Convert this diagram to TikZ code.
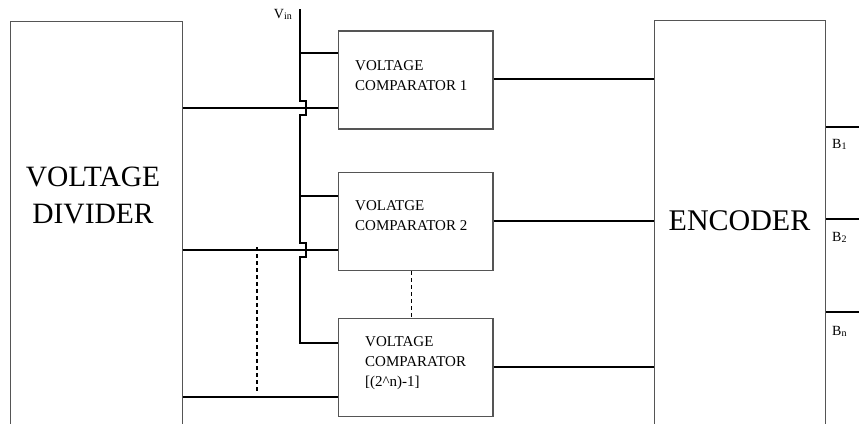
\documentclass[tikz,border=0pt]{standalone}
\usepackage{fontspec}
\setmainfont{Liberation Serif}
\usetikzlibrary{positioning,calc}
\definecolor{boxline}{RGB}{85,85,85}
\newcommand{\lowsub}[1]{\raisebox{-1pt}{\fontsize{10}{10}\selectfont #1}}
\tikzset{
  bigbox/.style={rectangle,draw=boxline,line width=1.1pt,anchor=north west,inner sep=0pt},
  cmpbox/.style={rectangle,draw=boxline,line width=1.1pt,minimum width=154.5pt,minimum height=98pt,inner sep=0pt},
  bigtext/.style={align=center,inner sep=0pt,font=\fontsize{29.5}{37}\selectfont},
  cmptext/.style={align=left,anchor=west,inner sep=0pt,font=\fontsize{15}{20}\selectfont},
  outtext/.style={anchor=west,inner sep=0pt,font=\fontsize{14}{16}\selectfont},
  wire/.style={line width=1.1pt},
  dotwire/.style={line width=1.1pt,dash pattern=on 4pt off 3pt}
}
\begin{document}
\begin{tikzpicture}[x=1pt,y=-1pt]
  \useasboundingbox (0,0) rectangle (859,423);
  \clip (0,0) rectangle (859,423);
  % big blocks
  \node[bigbox,minimum width=171.5pt,minimum height=409pt] (divider) at (10,21) {};
  \node[bigtext] (dividertxt) at (93,195) {VOLTAGE\\DIVIDER};
  \node[bigbox,minimum width=171pt,minimum height=410pt] (encoder) at (654,20) {};
  \node[bigtext,font=\fontsize{30}{34}\selectfont] (encodertxt) at (739.5,221) {ENCODER};
  % comparators
  \node[cmpbox] (cmp1) at (415.75,80) {};
  \node[cmpbox] (cmp2) at (415.75,221.5) {};
  \node[cmpbox] (cmp3) at (415.75,367.5) {};
  \node[cmptext] (cmp1txt) at (355,76) {VOLTAGE\\COMPARATOR 1};
  \node[cmptext] (cmp2txt) at (355,216) {VOLATGE\\COMPARATOR 2};
  \node[cmptext] (cmp3txt) at (365,363) {VOLTAGE\\COMPARATOR\\{[}(2\^{}n)-1]};
  % Vin line with hops
  \coordinate (vin) at (300,9);
  \node[outtext,anchor=east] (vinlbl) at (292,14) {V\lowsub{in}};
  \draw[wire] (vin) -- (300,101) -- ++(6,0) -- ++(0,14) -- ++(-6,0)
    -- (300,243) -- ++(6,0) -- ++(0,14) -- ++(-6,0)
    -- (300,343) -- (cmp3.west |- 0,343);
  \coordinate (tapA) at (300,53);
  \coordinate (tapB) at (300,196);
  \draw[wire] (tapA) -- (tapA -| cmp1.west);
  \draw[wire] (tapB) -- (tapB -| cmp2.west);
  % divider taps
  \draw[wire] (divider.east |- 0,108) -- (cmp1.west |- 0,108);
  \draw[wire] (divider.east |- 0,250) -- (cmp2.west |- 0,250);
  \draw[wire] (divider.east |- 0,397) -- (cmp3.west |- 0,397);
  % comparator outputs
  \draw[wire] (cmp1.east |- 0,79) -- (encoder.west |- 0,79);
  \draw[wire] (cmp2.east |- 0,221) -- (encoder.west |- 0,221);
  \draw[wire] (cmp3.east |- 0,367) -- (encoder.west |- 0,367);
  % encoder outputs
  \coordinate (bA) at (859,127);
  \coordinate (bB) at (859,219);
  \coordinate (bN) at (859,312);
  \draw[wire] (encoder.east |- bA) -- (bA);
  \draw[wire] (encoder.east |- bB) -- (bB);
  \draw[wire] (encoder.east |- bN) -- (bN);
  \node[outtext] (bAlbl) at (832,144) {B\lowsub{1}};
  \node[outtext] (bBlbl) at (832,237) {B\lowsub{2}};
  \node[outtext] (bNlbl) at (832,331) {B\lowsub{n}};
  % dashed links
  \coordinate (dashtop) at (257,247);
  \coordinate (dashbot) at (257,392);
  \draw[dotwire] (dashtop) -- (dashbot);
  \draw[dotwire] ($(cmp2.south)+(-4,0)$) -- ($(cmp3.north)+(-4,0)$);
\end{tikzpicture}
\end{document}
